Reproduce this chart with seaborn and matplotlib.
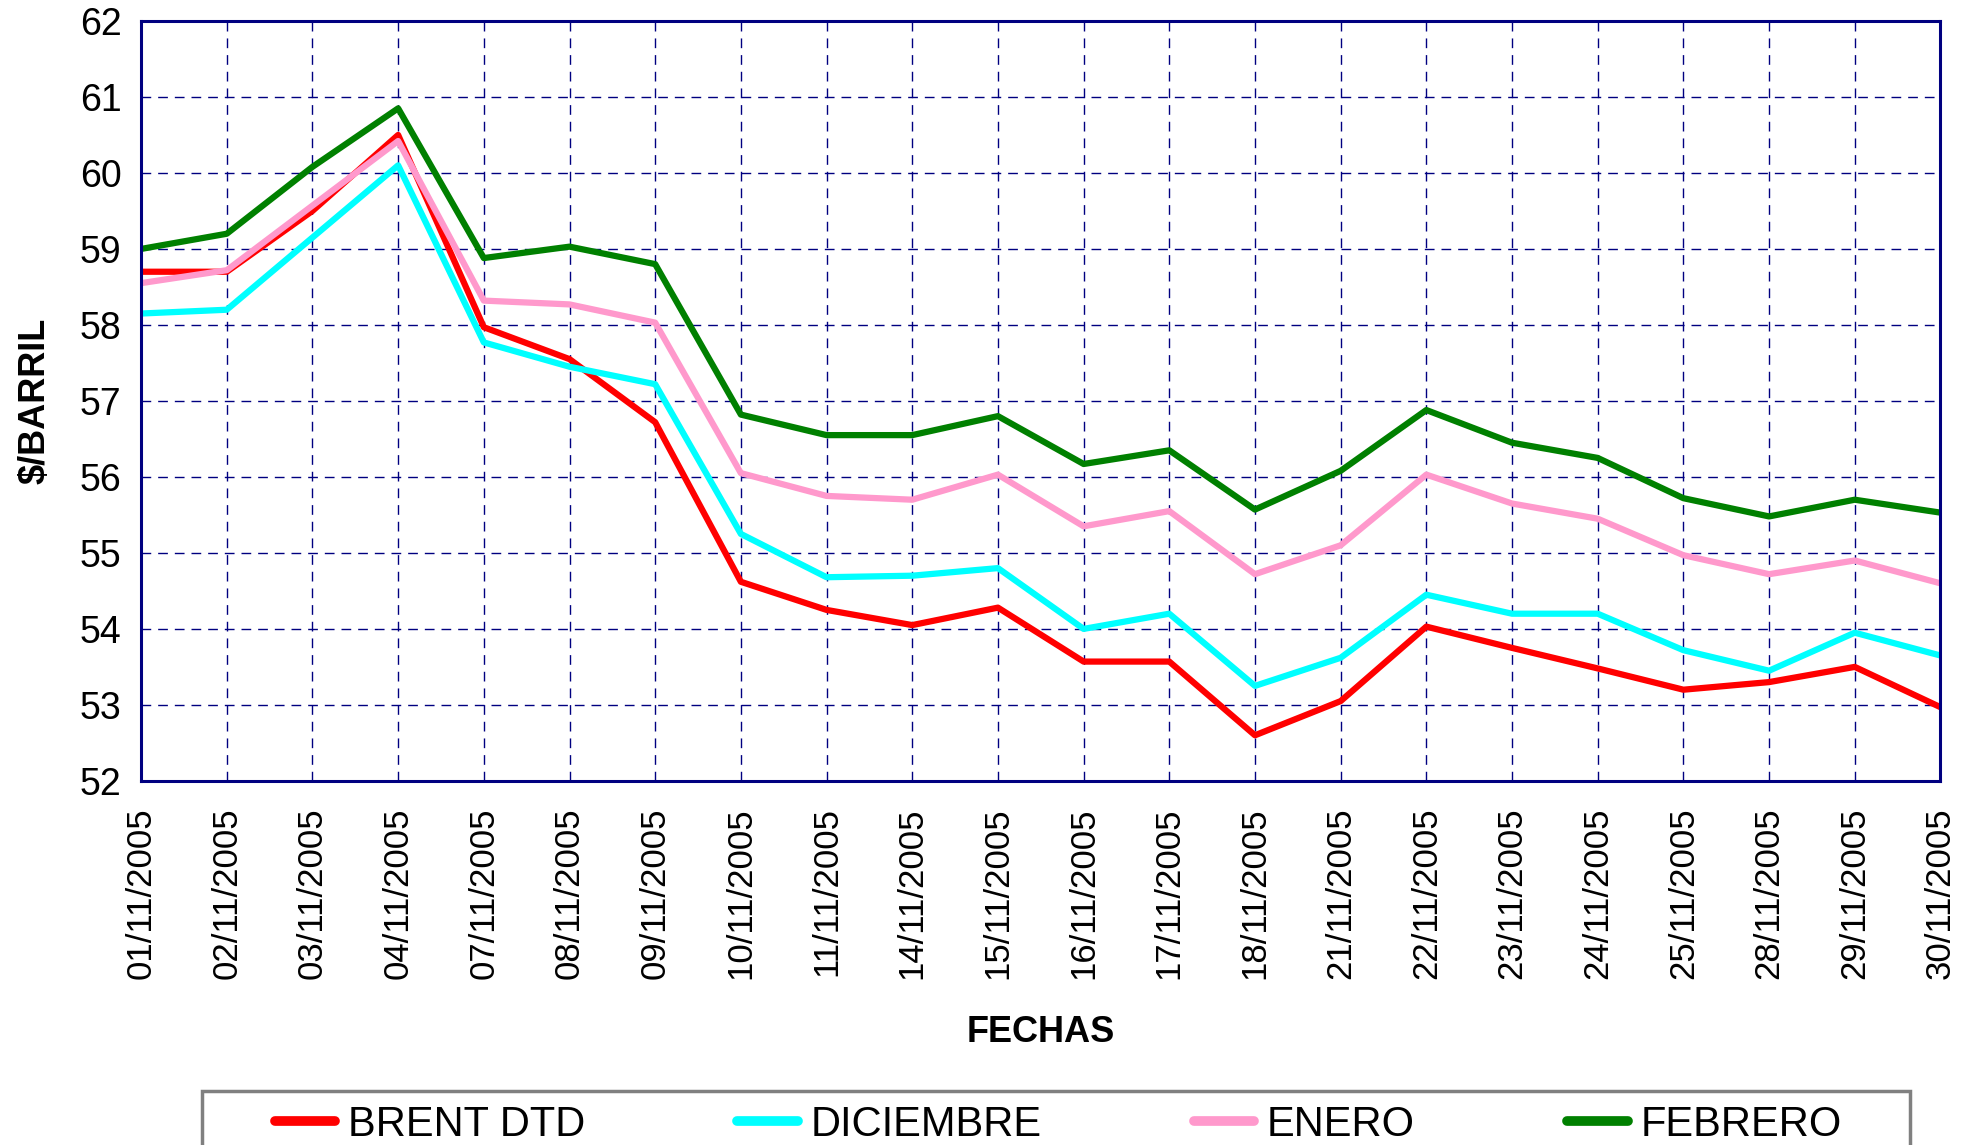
import pandas as pd
import matplotlib
matplotlib.use("Agg")
import matplotlib.pyplot as plt
from matplotlib.patches import Rectangle
import seaborn as sns

sns.set_style("white")
plt.rcParams['font.family'] = ['Liberation Sans', 'DejaVu Sans']
plt.rcParams['text.color'] = 'black'
plt.rcParams['axes.labelcolor'] = 'black'

fechas = ["01/11/2005", "02/11/2005", "03/11/2005", "04/11/2005", "07/11/2005",
          "08/11/2005", "09/11/2005", "10/11/2005", "11/11/2005", "14/11/2005",
          "15/11/2005", "16/11/2005", "17/11/2005", "18/11/2005", "21/11/2005",
          "22/11/2005", "23/11/2005", "24/11/2005", "25/11/2005", "28/11/2005",
          "29/11/2005", "30/11/2005"]

brent = [58.70, 58.70, 59.50, 60.50, 57.97, 57.55, 56.72, 54.62, 54.25, 54.05, 54.28,
         53.57, 53.57, 52.60, 53.05, 54.03, 53.75, 53.48, 53.20, 53.30, 53.50, 52.97]
diciembre = [58.15, 58.20, 59.15, 60.10, 57.77, 57.45, 57.22, 55.25, 54.68, 54.70, 54.80,
             54.00, 54.20, 53.25, 53.62, 54.45, 54.20, 54.20, 53.72, 53.45, 53.95, 53.65]
enero = [58.55, 58.72, 59.57, 60.42, 58.32, 58.27, 58.03, 56.05, 55.75, 55.70, 56.03,
         55.35, 55.55, 54.72, 55.10, 56.03, 55.65, 55.45, 54.97, 54.72, 54.90, 54.60]
febrero = [59.00, 59.20, 60.08, 60.85, 58.88, 59.03, 58.80, 56.82, 56.55, 56.55, 56.80,
           56.17, 56.35, 55.57, 56.08, 56.88, 56.45, 56.25, 55.72, 55.48, 55.70, 55.53]

series = ["BRENT DTD", "DICIEMBRE", "ENERO", "FEBRERO"]
colores = ["#ff0000", "#00ffff", "#ff99cc", "#008000"]

rows = []
for name, vals in zip(series, [brent, diciembre, enero, febrero]):
    for i, v in enumerate(vals):
        rows.append({"pos": i, "valor": v, "serie": name})
df = pd.DataFrame(rows)

fig = plt.figure(figsize=(19.76, 11.45), dpi=100)
ax = fig.add_axes([0.0714, 0.318, 0.9106, 0.6637])

sns.lineplot(data=df, x="pos", y="valor", hue="serie", hue_order=series,
             palette=colores, linewidth=4.5, ax=ax, legend=False)

navy = "#000080"
ax.set_xlim(0, len(fechas) - 1)
ax.set_ylim(52, 62)
ax.set_yticks(range(52, 63))
ax.set_xticks(range(len(fechas)))
ax.set_xticklabels(fechas, rotation=90, fontsize=25)
ax.tick_params(axis='y', labelsize=27, length=8, width=2, color=navy, pad=6,
               labelcolor='black')
ax.tick_params(axis='x', length=10, width=1, color="#555555", pad=9,
               labelcolor='black')
ax.grid(True, color=navy, linestyle=(0, (7, 5)), linewidth=1.0)
for s in ax.spines.values():
    s.set_color(navy)
    s.set_linewidth(2.2)

ax.set_ylabel("$/BARRIL", fontsize=26, fontweight='bold', labelpad=20)
ax.set_xlabel("FECHAS", fontsize=26, fontweight='bold', labelpad=26)

# legend frame drawn separately (it runs off the bottom of the figure)
fig.patches.append(Rectangle((0.102, -0.05), 0.8646, 0.097, transform=fig.transFigure,
                             facecolor="white", edgecolor="#808080", linewidth=2.5,
                             zorder=0))
handles = [plt.Line2D([], [], color=c, linewidth=7) for c in colores]
leg = fig.legend(handles, series, loc='upper left', ncol=4, mode='expand',
                 bbox_to_anchor=(0.139, 0.035, 0.793, 0), bbox_transform=fig.transFigure,
                 fontsize=30, frameon=False, handlelength=1.45,
                 handletextpad=0.3, borderpad=0, borderaxespad=0)

fig.savefig("out.png", dpi=100)
